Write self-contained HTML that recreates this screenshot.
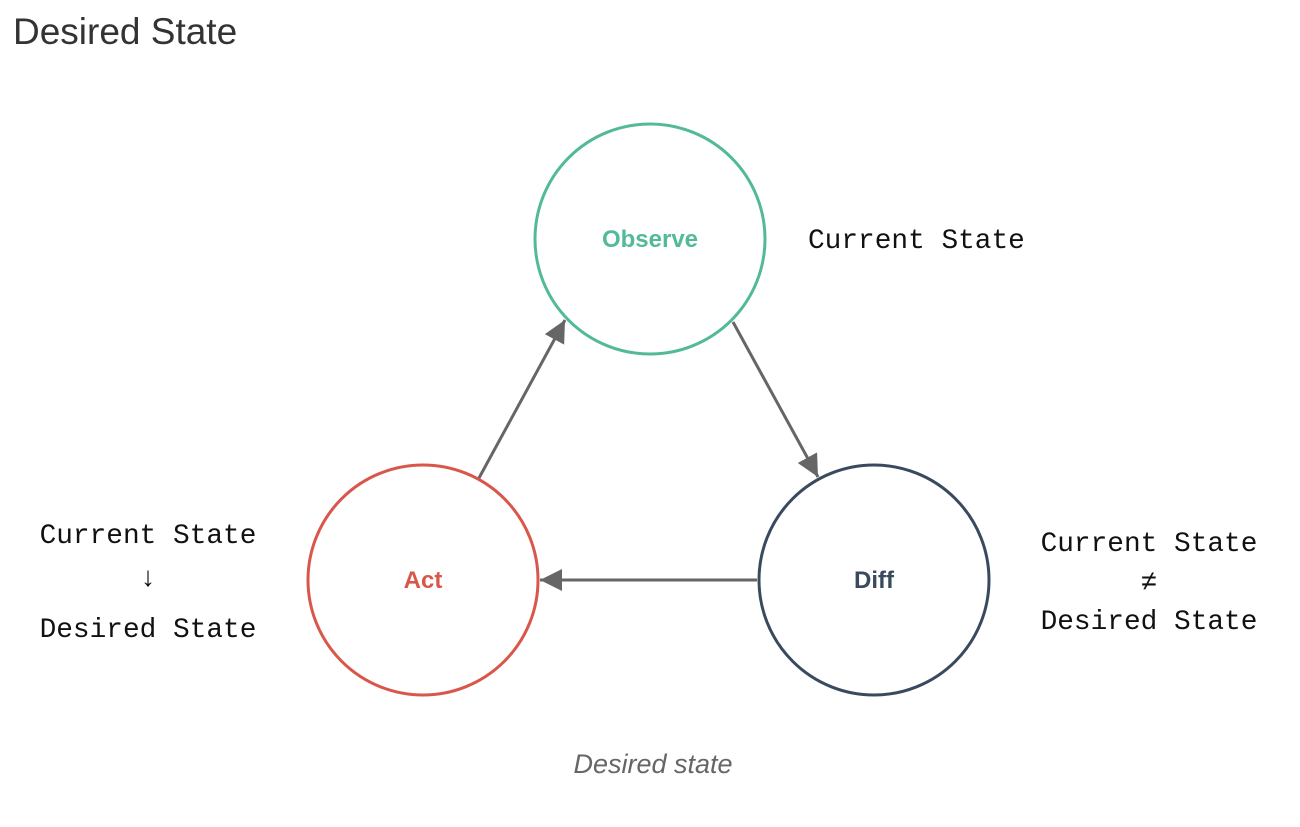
<!DOCTYPE html>
<html><head><style>
body{margin:0;width:1300px;height:822px;background:#fff;overflow:hidden;font-family:"Liberation Sans",sans-serif}
</style></head><body>
<svg width="1300" height="822" xmlns="http://www.w3.org/2000/svg">
<defs>
<marker id="b" viewBox="0 0 10 10" refX="10" refY="5" markerWidth="26" markerHeight="22" orient="auto" markerUnits="userSpaceOnUse"><path d="M0,0 L10,5 L0,10z" fill="#666"/></marker></defs>
<text x="13" y="44" font-size="37" fill="#333" font-family="Liberation Sans,sans-serif">Desired State</text>
<circle cx="650" cy="239" r="115" fill="none" stroke="#52b99a" stroke-width="3"/>
<circle cx="423" cy="580" r="115" fill="none" stroke="#d9574a" stroke-width="3"/>
<circle cx="874" cy="580" r="115" fill="none" stroke="#3a4a5e" stroke-width="3"/>
<text x="650" y="247" text-anchor="middle" font-size="24" font-weight="bold" fill="#52b99a">Observe</text>
<text x="423" y="588" text-anchor="middle" font-size="24" font-weight="bold" fill="#d9574a">Act</text>
<text x="874" y="588" text-anchor="middle" font-size="24" font-weight="bold" fill="#3a4a5e">Diff</text>
<line x1="479" y1="478" x2="565" y2="320" stroke="#666" stroke-width="3" marker-end="url(#b)"/>
<line x1="733" y1="322" x2="818" y2="477" stroke="#666" stroke-width="3" marker-end="url(#b)"/>
<line x1="757" y1="580" x2="540" y2="580" stroke="#666" stroke-width="3" marker-end="url(#b)"/>
<g font-family="Liberation Mono,monospace" font-size="27.8" fill="#111">
<text x="808" y="248">Current State</text>
<text x="148" y="543" text-anchor="middle">Current State</text>
<text x="148" y="586" text-anchor="middle">↓</text>
<text x="148" y="637" text-anchor="middle">Desired State</text>
<text x="1149" y="551" text-anchor="middle">Current State</text>
<text x="1149" y="590" text-anchor="middle">≠</text>
<text x="1149" y="629" text-anchor="middle">Desired State</text>
</g>
<text x="653" y="773" text-anchor="middle" font-size="27" font-style="italic" fill="#666">Desired state</text>
</svg>
</body></html>
